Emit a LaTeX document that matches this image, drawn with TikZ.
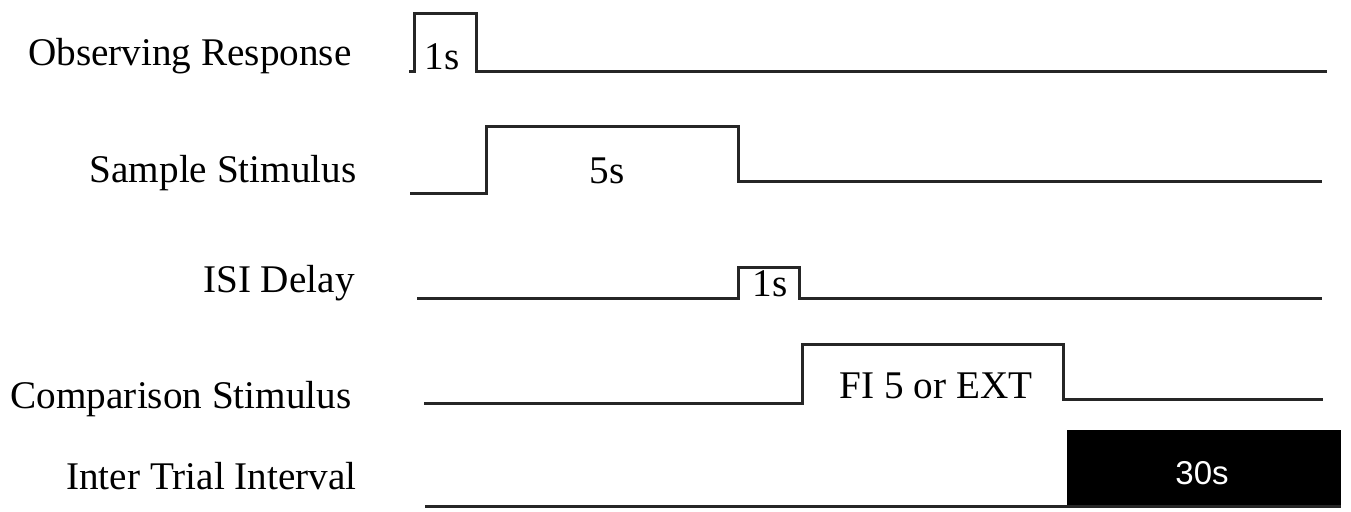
\documentclass[tikz,border=0pt]{standalone}
\usepackage{fontspec}
\setmainfont{Liberation Serif}
\newfontfamily\ittisans{Liberation Sans}
\begin{document}
\begin{tikzpicture}[x=0.5pt,y=-0.5pt,
  lbl/.style={anchor=base east,inner sep=0pt,font=\fontsize{19.6}{23}\selectfont},
  dur/.style={anchor=base,inner sep=0pt,font=\fontsize{19.6}{23}\selectfont},
  sig/.style={line width=1.5pt,line join=miter,draw=black!85}]
\useasboundingbox (0,0) rectangle (1351,512);
% labels
\node[lbl] (lor) at (352,66) {Observing Response};
\node[lbl] (lss) at (357,183) {Sample Stimulus};
\node[lbl] (lisi) at (355,293) {ISI Delay};
\node[lbl] (lcs) at (352,409) {Comparison Stimulus};
\node[lbl] (liti) at (357,490) {Inter Trial Interval};
% row 1: observing response
\draw[sig] (409,72) -- (414,72) -- (414,14) -- (476,14) -- (476,72) -- (1327,72);
\node[dur] (d1) at (442,70) {1s};
% row 2: sample stimulus
\draw[sig] (410,194) -- (486,194) -- (486,127) -- (738,127) -- (738,182) -- (1322,182);
\node[dur] (d2) at (607,184) {5s};
% row 3: ISI delay
\draw[sig] (417,299) -- (738,299) -- (738,268) -- (799,268) -- (799,299) -- (1322,299);
\node[dur] (d3) at (770,297) {1s};
% row 4: comparison stimulus
\draw[sig] (424,404) -- (802,404) -- (802,345) -- (1063,345) -- (1063,400) -- (1323,400);
\node[dur] (d4) at (936,399) {FI 5 or EXT};
% row 5: inter trial interval
\fill[black] (1067,430) rectangle (1341,507);
\draw[sig] (425,507) -- (1341,507);
\node[anchor=base,inner sep=0pt,text=white,font=\ittisans\fontsize{16.5}{20}\selectfont] (d5) at (1202,485) {30s};
\end{tikzpicture}
\end{document}
